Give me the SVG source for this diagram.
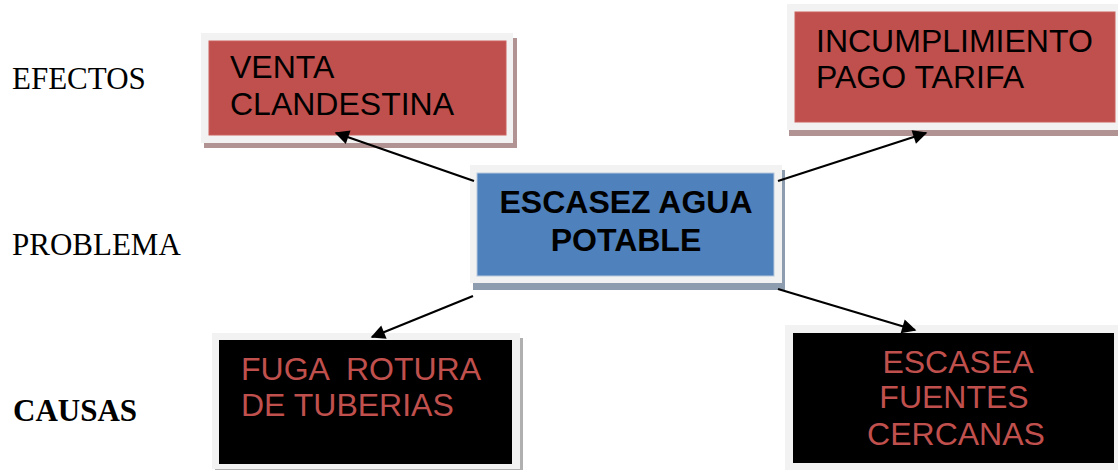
<svg xmlns="http://www.w3.org/2000/svg" width="1118" height="470" viewBox="0 0 1118 470">
<defs>
<style>
.lbl{font-family:"Liberation Serif","Times New Roman",serif;font-size:31px;fill:#000}
.frame{fill:#f2f2f2}
.red{fill:#c0504d;stroke:#c9605d;stroke-width:1}
.blue{fill:#4f81bd;stroke:#b8c8dc;stroke-width:1}
.blk{fill:#000}
.shr{fill:#b29393}
.shb{fill:#8e9cb0}
.shk{fill:#b0b0b0}
.t{font-family:"Liberation Sans",Arial,sans-serif;font-size:32px}
.tk{fill:#000}
.tr{fill:#c0504d}
.conn{stroke:#000;stroke-width:2.2;fill:none;marker-end:url(#ah)}
</style>
<marker id="ah" viewBox="0 0 10 10" refX="9" refY="5" markerWidth="8" markerHeight="6.5" markerUnits="strokeWidth" orient="auto">
<path d="M0,0 L10,5 L0,10 z" fill="#000"/>
</marker>
</defs>
<rect width="1118" height="470" fill="#fff"/>
<g id="labels">
<text class="lbl" x="12" y="89">EFECTOS</text>
<text class="lbl" x="12" y="255">PROBLEMA</text>
<text class="lbl" x="13" y="421" font-weight="bold">CAUSAS</text>
</g>
<g id="n1">
<rect class="shr" x="204" y="38" width="313" height="110"/>
<rect class="frame" x="201" y="33" width="312" height="110"/>
<rect class="red" x="209" y="41" width="297" height="94"/>
<text class="t tk" x="230" y="78">VENTA</text>
<text class="t tk" x="230" y="115">CLANDESTINA</text>
</g>
<g id="n2">
<rect class="shr" x="789" y="9" width="335" height="127"/>
<rect class="frame" x="787" y="4" width="335" height="126"/>
<rect class="red" x="795" y="12" width="320" height="110"/>
<text class="t tk" x="816" y="52">INCUMPLIMIENTO</text>
<text class="t tk" x="816" y="88">PAGO TARIFA</text>
</g>
<g id="n3">
<rect class="shb" x="473" y="170" width="312" height="120"/>
<rect class="frame" x="470" y="165" width="312" height="118"/>
<rect class="blue" x="477" y="173" width="297" height="103"/>
<text class="t tk" x="626" y="213" font-weight="bold" text-anchor="middle">ESCASEZ AGUA</text>
<text class="t tk" x="626" y="251" font-weight="bold" text-anchor="middle">POTABLE</text>
</g>
<g id="n4">
<rect class="shk" x="215" y="338" width="308" height="136"/>
<rect class="frame" x="212" y="333" width="308" height="136"/>
<rect class="blk" x="219" y="340" width="293" height="124"/>
<text class="t tr" x="241" y="380" xml:space="preserve">FUGA  ROTURA</text>
<text class="t tr" x="241" y="416">DE TUBERIAS</text>
</g>
<g id="n5">
<rect class="frame" x="785" y="325" width="337" height="145"/>
<rect class="blk" x="793" y="333" width="321" height="130"/>
<text class="t tr" x="958" y="373" text-anchor="middle">ESCASEA</text>
<text class="t tr" x="954" y="408" text-anchor="middle">FUENTES</text>
<text class="t tr" x="956" y="445" text-anchor="middle">CERCANAS</text>
</g>
<g id="connectors">
<line class="conn" x1="474" y1="181" x2="336" y2="133"/>
<line class="conn" x1="778" y1="181" x2="926" y2="133"/>
<line class="conn" x1="473" y1="296" x2="372" y2="337"/>
<line class="conn" x1="778" y1="289" x2="915" y2="330"/>
</g>
</svg>
